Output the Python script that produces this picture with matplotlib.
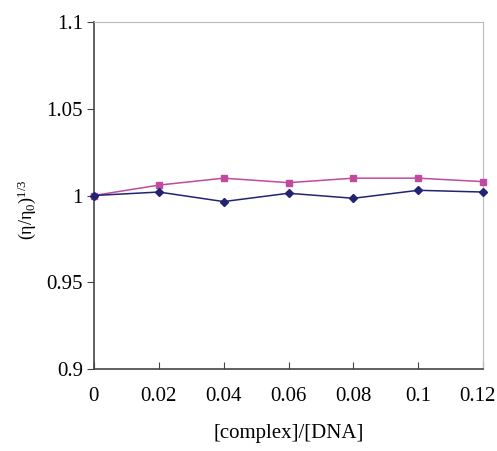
import matplotlib
matplotlib.use("Agg")
import matplotlib.pyplot as plt
import matplotlib.transforms as mtransforms

plt.rcParams["font.family"] = ["Liberation Serif", "DejaVu Serif"]
plt.rcParams["mathtext.fontset"] = "custom"
plt.rcParams["mathtext.rm"] = "Liberation Serif"
plt.rcParams["mathtext.it"] = "Liberation Serif"

ratio = [0, 0.02, 0.04, 0.06, 0.08, 0.10, 0.12]
series_a = [1.000, 1.002, 0.9965, 1.0013, 0.9984, 1.003, 1.002]
series_b = [1.000, 1.006, 1.010, 1.0074, 1.010, 1.010, 1.008]
x_ticks = [0, 0.02, 0.04, 0.06, 0.08, 0.10, 0.12]
x_labels = ["0", "0.02", "0.04", "0.06", "0.08", "0.1", "0.12"]
y_ticks = [0.9, 0.95, 1.0, 1.05, 1.1]
y_labels = ["0.9", "0.95", "1", "1.05", "1.1"]

fig = plt.figure(figsize=(4.97, 4.51), dpi=100)
ax = fig.add_axes([0.189, 0.182, 0.783, 0.769])

ax.plot(ratio, series_b, color="#c04a9e", marker="s", markersize=5,
        linewidth=1.1, clip_on=False, zorder=3)
ax.plot(ratio, series_a, color="#232373", marker="D", markersize=4.5,
        linewidth=1.1, clip_on=False, zorder=4)

ax.set_xlim(0, 0.12)
ax.set_ylim(0.9, 1.1)
ax.set_xticks(x_ticks)
ax.set_xticklabels(x_labels)
ax.set_yticks(y_ticks)
ax.set_yticklabels(y_labels)
ax.tick_params(axis="x", direction="in", length=5, labelsize=15, pad=13, color="#444444")
ax.tick_params(axis="y", direction="out", length=5, labelsize=15, pad=3, color="#444444")

# last x label sits a bit left so it stays inside the figure
last = ax.get_xticklabels()[-1]
last.set_transform(last.get_transform() +
                   mtransforms.ScaledTranslation(-4 / 72, 0, fig.dpi_scale_trans))

for side in ["left", "bottom"]:
    ax.spines[side].set_color("#444444")
    ax.spines[side].set_linewidth(1.2)
for side in ["top", "right"]:
    ax.spines[side].set_color("#bbbbbb")
    ax.spines[side].set_linewidth(0.8)

ax.set_xlabel("[complex]/[DNA]", fontsize=15, labelpad=13)
ax.set_ylabel(r"(η/η$_0$)$^{1/3}$", fontsize=13)
ax.yaxis.set_label_coords(-0.143, 0.46)

fig.savefig("out.png", dpi=100)
